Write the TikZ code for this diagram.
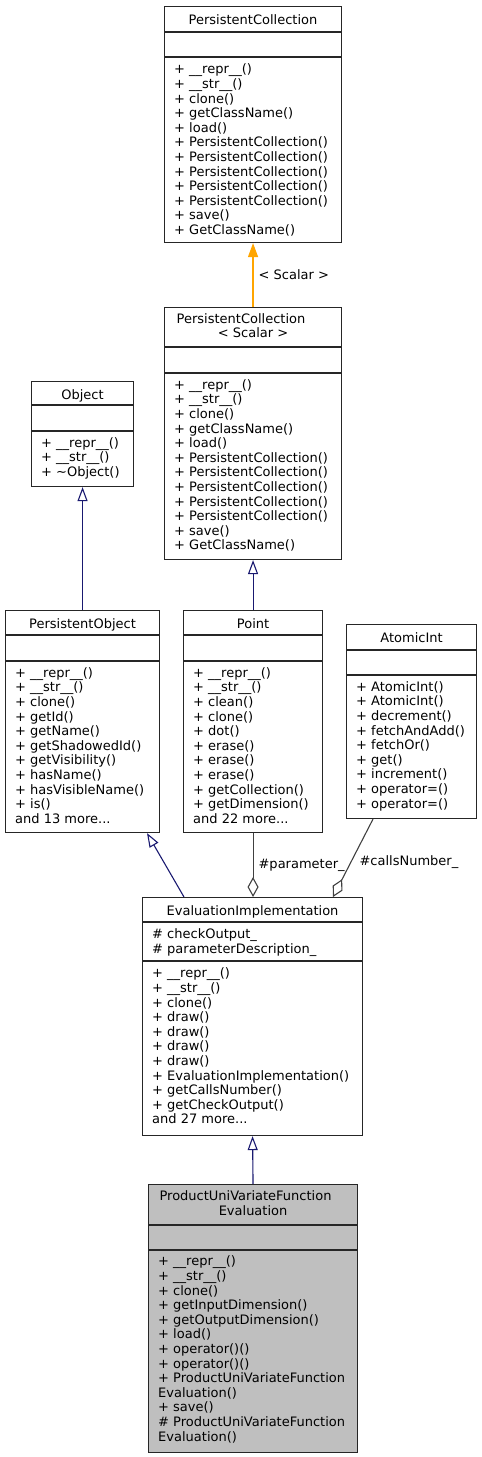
\documentclass[tikz,border=0pt]{standalone}
\usepackage{fontspec}
\setmainfont{DejaVu Sans}
\usetikzlibrary{arrows.meta}

\definecolor{navy}{HTML}{191970}
\definecolor{tplorange}{HTML}{FFA500}
\definecolor{aggrey}{HTML}{404040}
\definecolor{mainfill}{HTML}{BFBFBF}
\newcommand{\classfont}{\fontsize{13}{14.6}\selectfont}

\begin{document}
\begin{tikzpicture}[
  x=1pt, y=-1pt,
  classbox/.style={draw=black!85, line width=1.1pt, fill=white, anchor=north west, inner sep=0pt},
  mainbox/.style={classbox, fill=mainfill},
  classline/.style={draw=black!85, line width=1.1pt},
  title/.style={font=\classfont, anchor=base, inner sep=0pt},
  longtitle/.style={font=\classfont, anchor=north, align=center, inner sep=0pt},
  members/.style={font=\classfont, anchor=north west, align=left, inner sep=0pt, xshift=10pt},
  inherit/.style={draw=navy, line width=1.1pt, -{Triangle[open, length=14pt, width=10pt]}},
  template/.style={draw=tplorange, line width=1.3pt, -{Triangle[length=14pt, width=10pt, fill=tplorange]}},
  aggregate/.style={draw=aggrey, line width=1.1pt, -{Diamond[open, length=20pt, width=11pt]}},
  edgelabel/.style={font=\classfont, inner sep=0pt, anchor=west}
  ]
  \useasboundingbox (0,0) rectangle (482,1457);

  % Class boxes
  \node[classbox, minimum width=177, minimum height=236] (pc) at (164,6) {};
  \node[classbox, minimum width=177, minimum height=252] (pcs) at (164,307) {};
  \node[classbox, minimum width=102, minimum height=105] (obj) at (31,381) {};
  \node[classbox, minimum width=154, minimum height=222] (po) at (5,610) {};
  \node[classbox, minimum width=139, minimum height=222] (point) at (183,610) {};
  \node[classbox, minimum width=130, minimum height=194] (ai) at (346,624) {};
  \node[classbox, minimum width=220, minimum height=238] (ei) at (142,897) {};
  \node[mainbox, minimum width=209, minimum height=268] (puvfe) at (148,1184) {};

  % Compartment lines
  \draw[classline] (pc.west |- 0,32) -- (pc.east |- 0,32);
  \draw[classline] (pc.west |- 0,57) -- (pc.east |- 0,57);
  \draw[classline] (pcs.west |- 0,347) -- (pcs.east |- 0,347);
  \draw[classline] (pcs.west |- 0,373) -- (pcs.east |- 0,373);
  \draw[classline] (obj.west |- 0,405) -- (obj.east |- 0,405);
  \draw[classline] (obj.west |- 0,431) -- (obj.east |- 0,431);
  \draw[classline] (po.west |- 0,635) -- (po.east |- 0,635);
  \draw[classline] (po.west |- 0,661) -- (po.east |- 0,661);
  \draw[classline] (point.west |- 0,635) -- (point.east |- 0,635);
  \draw[classline] (point.west |- 0,661) -- (point.east |- 0,661);
  \draw[classline] (ai.west |- 0,650) -- (ai.east |- 0,650);
  \draw[classline] (ai.west |- 0,675) -- (ai.east |- 0,675);
  \draw[classline] (ei.west |- 0,922) -- (ei.east |- 0,922);
  \draw[classline] (ei.west |- 0,961) -- (ei.east |- 0,961);
  \draw[classline] (puvfe.west |- 0,1225) -- (puvfe.east |- 0,1225);
  \draw[classline] (puvfe.west |- 0,1250) -- (puvfe.east |- 0,1250);

  % Class names
  \node[title] (pc-name) at (pc.north |- 0,24) {PersistentCollection};
  \node[longtitle] (pcs-name) at (pcs.north |- 0,313.3) {PersistentCollection\rule{24pt}{0pt}\\< Scalar >};
  \node[title] (obj-name) at (obj.north |- 0,399) {Object};
  \node[title] (po-name) at (po.north |- 0,628) {PersistentObject};
  \node[title] (point-name) at (point.north |- 0,628) {Point};
  \node[title] (ai-name) at (ai.north |- 0,642) {AtomicInt};
  \node[title] (ei-name) at (ei.north |- 0,915) {EvaluationImplementation};
  \node[longtitle] (puvfe-name) at (puvfe.north |- 0,1190.8) {ProductUniVariateFunction\rule{15pt}{0pt}\\Evaluation};

  % Members
  \node[members] (pc-ops) at (pc.west |- 0,63.8) {+ \_\_repr\_\_()\\+ \_\_str\_\_()\\+ clone()\\+ getClassName()\\+ load()\\+ PersistentCollection()\\+ PersistentCollection()\\+ PersistentCollection()\\+ PersistentCollection()\\+ PersistentCollection()\\+ save()\\+ GetClassName()};
  \node[members] (pcs-ops) at (pcs.west |- 0,379.3) {+ \_\_repr\_\_()\\+ \_\_str\_\_()\\+ clone()\\+ getClassName()\\+ load()\\+ PersistentCollection()\\+ PersistentCollection()\\+ PersistentCollection()\\+ PersistentCollection()\\+ PersistentCollection()\\+ save()\\+ GetClassName()};
  \node[members] (obj-ops) at (obj.west |- 0,437.3) {+ \_\_repr\_\_()\\+ \_\_str\_\_()\\+ \textasciitilde Object()};
  \node[members] (po-ops) at (po.west |- 0,667.3) {+ \_\_repr\_\_()\\+ \_\_str\_\_()\\+ clone()\\+ getId()\\+ getName()\\+ getShadowedId()\\+ getVisibility()\\+ hasName()\\+ hasVisibleName()\\+ is()\\and 13 more...};
  \node[members] (point-ops) at (point.west |- 0,667.3) {+ \_\_repr\_\_()\\+ \_\_str\_\_()\\+ clean()\\+ clone()\\+ dot()\\+ erase()\\+ erase()\\+ erase()\\+ getCollection()\\+ getDimension()\\and 22 more...};
  \node[members] (ai-ops) at (ai.west |- 0,681.3) {+ AtomicInt()\\+ AtomicInt()\\+ decrement()\\+ fetchAndAdd()\\+ fetchOr()\\+ get()\\+ increment()\\+ operator=()\\+ operator=()};
  \node[members] (ei-attrs) at (ei.west |- 0,928.8) {\# checkOutput\_\\\# parameterDescription\_};
  \node[members] (ei-ops) at (ei.west |- 0,967.8) {+ \_\_repr\_\_()\\+ \_\_str\_\_()\\+ clone()\\+ draw()\\+ draw()\\+ draw()\\+ draw()\\+ EvaluationImplementation()\\+ getCallsNumber()\\+ getCheckOutput()\\and 27 more...};
  \node[members] (puvfe-ops) at (puvfe.west |- 0,1255.8) {+ \_\_repr\_\_()\\+ \_\_str\_\_()\\+ clone()\\+ getInputDimension()\\+ getOutputDimension()\\+ load()\\+ operator()()\\+ operator()()\\+ ProductUniVariateFunction\\Evaluation()\\+ save()\\\# ProductUniVariateFunction\\Evaluation()};

  % Relations
  \draw[template] (pcs.north) -- node[edgelabel, xshift=5pt] (lbl-scalar) {< Scalar >} (pc.south);
  \draw[inherit] (point.north) -- (pcs.south);
  \draw[inherit] (po.north) -- (obj.south);
  \draw[inherit] ([xshift=42pt]ei.north west) -- ([xshift=142pt]po.south west);
  \draw[inherit] (puvfe.north) -- (ei.south);
  \draw[aggregate] (point.south) -- node[edgelabel, xshift=5pt] (lbl-param) {\#parameter\_} (point.south |- ei.north);
  \draw[aggregate] ([xshift=27pt]ai.south west) -- node[edgelabel, pos=0.55, xshift=8pt] (lbl-calls) {\#callsNumber\_} ([xshift=191pt]ei.north west);

\end{tikzpicture}
\end{document}
